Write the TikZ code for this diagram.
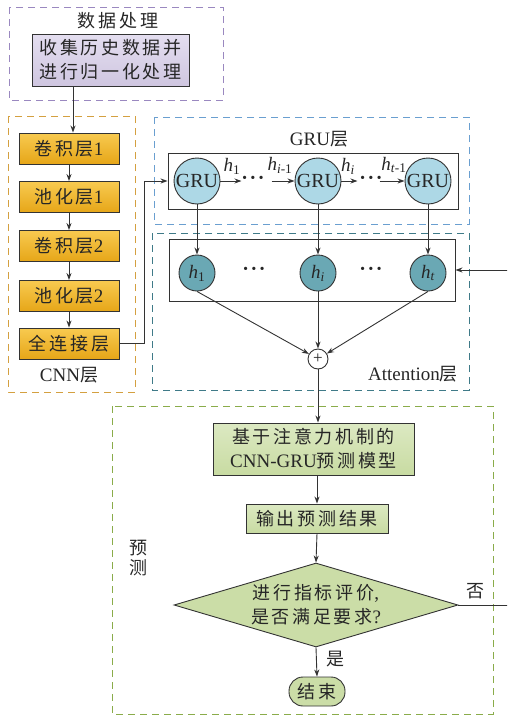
\documentclass[tikz,border=0pt]{standalone}
\usepackage{fontspec}
\setmainfont{Liberation Serif}
\newfontfamily\cjk[LetterSpace=15]{Noto Sans CJK SC}
\usetikzlibrary{arrows.meta,shapes.geometric,calc}

\newcommand\lat{\fontsize{19}{24}\selectfont}
\newcommand\zh{\cjk\fontsize{18}{24}\selectfont}
\newcommand\hvar[1]{\textit{h}\textsubscript{#1}}
% three centred dots, boxed to the height of the dots themselves
\newcommand\threedots{\raisebox{-5.2pt}{\smash{·\kern1.6pt·\kern1.6pt·}}\rule{0pt}{2pt}}

\definecolor{linegray}{HTML}{333333}
\definecolor{purpdash}{HTML}{9A88C0}
\definecolor{orangedash}{HTML}{D4A040}
\definecolor{bluedash}{HTML}{6A9FD0}
\definecolor{tealdash}{HTML}{3F7A88}
\definecolor{greendash}{HTML}{8AAC4A}
\definecolor{gruFill}{HTML}{ADD8E6}
\definecolor{hFill}{HTML}{6AA8B4}
\definecolor{lavTop}{HTML}{E4DEF0}
\definecolor{lavBot}{HTML}{CFC6E0}
\definecolor{cnnTop}{HTML}{F8CA50}
\definecolor{cnnBot}{HTML}{E6A618}
\definecolor{grnTop}{HTML}{DCE9C2}
\definecolor{grnBot}{HTML}{C8DBA2}

\begin{document}
\begin{tikzpicture}[x=1pt,y=-1pt,
  every node/.style={font=\lat, text=black!85},
  frame/.style={line width=1pt, dash pattern=on 7pt off 5pt},
  dbox/.style={draw=linegray, line width=0.9pt, inner sep=0pt, align=center},
  lavbox/.style={dbox, top color=lavTop, bottom color=lavBot},
  cnnbox/.style={dbox, top color=cnnTop, bottom color=cnnBot,
                 minimum width=100pt, minimum height=31pt},
  grnbox/.style={dbox, top color=grnTop, bottom color=grnBot},
  grucirc/.style={circle, draw=linegray, line width=0.9pt, fill=gruFill,
                  inner sep=0pt, minimum size=46pt, font=\fontsize{20}{24}\selectfont},
  hcirc/.style={circle, draw=linegray, line width=0.9pt, fill=hFill,
                inner sep=0pt, minimum size=36pt},
  dotsnode/.style={inner sep=0pt, font=\fontsize{20}{20}\selectfont\bfseries},
  arr/.style={draw=linegray, line width=0.9pt, -{Stealth[length=7pt,width=5pt]}},
]

\useasboundingbox (0,0) rectangle (507,720);
\clip (0,0) rectangle (507,720);

% ---- data preprocessing ----
\draw[frame, draw=purpdash] (9,7) rectangle (223,100);
\node (dtitle) at (118,21) {\zh 数据处理};
\node[lavbox, minimum width=157pt, minimum height=52pt, font=\zh] (collect)
  at (110.5,60) {收集历史数据并\\进行归一化处理};

% ---- CNN layer ----
\draw[frame, draw=orangedash] (8,116) rectangle (135,392);
\node[cnnbox] (c1) at (69,148.5) {{\zh 卷积层}1};
\node[cnnbox] (c2) at (69,197)   {{\zh 池化层}1};
\node[cnnbox] (c3) at (69,246)   {{\zh 卷积层}2};
\node[cnnbox] (c4) at (69,296)   {{\zh 池化层}2};
\node[cnnbox] (c5) at (69,343.5) {\zh 全连接层};
\node (cnnlbl) at (69,375) {CNN{\zh 层}};

\draw[arr] ([xshift=4pt]c1.north |- collect.south) -- ([xshift=4pt]c1.north);
\draw[arr] (c1) -- (c2);
\draw[arr] (c2) -- (c3);
\draw[arr] (c3) -- (c4);
\draw[arr] (c4) -- (c5);

% ---- GRU layer ----
\draw[frame, draw=bluedash] (154,117) rectangle (469,224);
\node (grulbl) at (319,139) {GRU{\zh 层}};
\node[draw=linegray, line width=0.9pt, minimum width=290pt, minimum height=56pt]
  (grubox) at (313,181) {};
\node[grucirc] (g1) at (197,181) {GRU};
\node[grucirc] (g2) at (318,181) {GRU};
\node[grucirc] (g3) at (428,181) {GRU};

\draw[arr] (g1.east) -- ++(21,0) coordinate (a1);
\node[dotsnode] (d1) at (253,181) {\threedots};
\draw[arr] ([xshift=-23pt]g2.west) coordinate (a2) -- (g2.west);
\draw[arr] (g2.east) -- ++(16,0) coordinate (a3);
\node[dotsnode] (d2) at (371,181) {\threedots};
\draw[arr] ([xshift=-25pt]g3.west) coordinate (a4) -- (g3.west);
\node[inner sep=1pt] (l1) at (232,166) {\hvar{1}};
\node[inner sep=1pt] (l2) at (280,165) {\hvar{\textit{i}-1}};
\node[inner sep=1pt] (l3) at (348,166) {\hvar{\textit{i}}};
\node[inner sep=1pt] (l4) at (394,165) {\hvar{\textit{t}-1}};

\coordinate (cbend) at (144,181);
\draw[arr] (c5.east) -| (cbend) -- (grubox.west |- cbend);

% ---- Attention layer ----
\draw[frame, draw=tealdash] (152,233) rectangle (469,390);
\node[draw=linegray, line width=0.9pt, minimum width=286pt, minimum height=62pt]
  (hbox) at (312,270) {};
\node[hcirc] (h1) at (197,273) {\hvar{1}};
\node[hcirc] (h2) at (318,273) {\hvar{\textit{i}}};
\node[hcirc] (h3) at (428,273) {\hvar{\textit{t}}};
\node[dotsnode] (d3) at (254,272) {\threedots};
\node[dotsnode] (d4) at (371,272) {\threedots};
\draw[arr] (g1) -- (h1);
\draw[arr] (g2) -- (h2);
\draw[arr] (g3) -- (h3);

\node[circle, draw=linegray, line width=0.9pt, fill=white, minimum size=20pt,
      inner sep=0pt, font=\fontsize{17}{17}\selectfont] (plus) at (318,359) {+};
\draw[arr] (h1.south) -- (plus);
\draw[arr] (h2.south) -- (plus);
\draw[arr] (h3.south) -- (plus);
\node (attlbl) at (413,374) {Attention{\zh 层}};

% ---- prediction ----
\draw[frame, draw=greendash] (112,406) rectangle (493,714);
\node[grnbox, minimum width=201pt, minimum height=52pt] (model) at (313.5,449)
  {{\zh 基于注意力机制的}\\CNN-GRU{\zh 预测模型}};
\node[grnbox, minimum width=142pt, minimum height=29pt, font=\zh] (out)
  at (317,518.5) {输出预测结果};
\node[diamond, draw=linegray, line width=0.9pt, fill=grnBot!85!grnTop,
      shape aspect=3.4, minimum width=284pt, minimum height=84pt,
      inner sep=0pt, align=center] (judge) at (316,605)
  {{\zh 进行指标评价},\\{\zh 是否满足要求}?};
\node[draw=linegray, line width=0.9pt, fill=grnBot!85!grnTop, rounded corners=14pt,
      minimum width=56pt, minimum height=29pt, inner sep=0pt, font=\zh]
  (finish) at (317,691.5) {结束};
\node[align=center, font=\cjk\fontsize{18}{20}\selectfont] (predlbl) at (138,558) {预\\测};
\node (nolbl) at (475,591) {\zh 否};
\node (yeslbl) at (335,659) {\zh 是};

\draw[arr] (plus.south) -- (model.north -| plus.south);
\draw[arr] (out.north |- model.south) -- (out.north);
\draw[arr] (out.south) -- (judge.north);
\draw[arr] (judge.south) -- (finish.north);
\coordinate (fbend) at (520,605);
\draw[arr] (judge.east) -- (fbend) |- (hbox.east);
\end{tikzpicture}
\end{document}
